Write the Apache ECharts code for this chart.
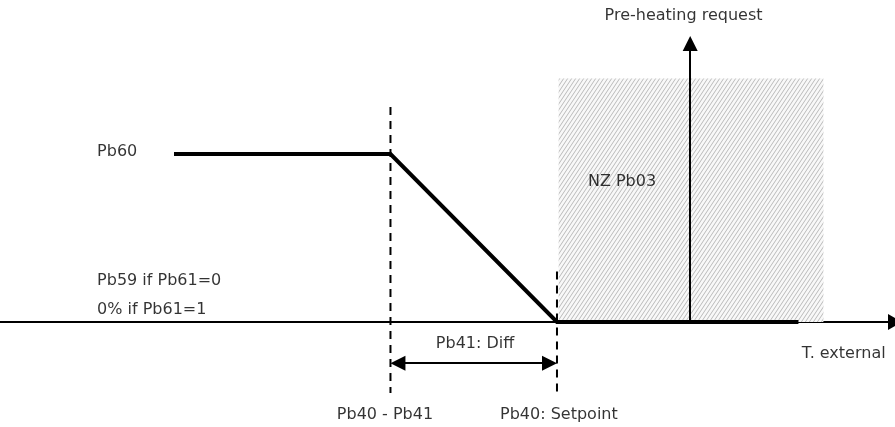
<!DOCTYPE html>
<html>
<head>
<meta charset="utf-8">
<script src="https://cdn.jsdelivr.net/npm/echarts@6/dist/echarts.min.js"></script>
<style>
html,body{margin:0;padding:0;background:#fff;}
#chart{width:895px;height:427px;}
</style>
</head>
<body>
<div id="chart"></div>
<script>
// ---- data (diagram units: x = external temperature, y = request %) ----
const curveX = [0, 13, 23, 37.5];
const curveY = [100, 100, 0, 0];

const zoneX = [23.1, 39];
const zoneY = [0, 145];

const requestArrowX = [31, 31];
const requestArrowY = [0, 165.8];

const diffArrowX = [13.45, 22.55];
const diffArrowY = [-24.5, -24.5];

const dashLowX = [13, 13];
const dashLowY = [128, -42.3];
const dashSetX = [23, 23];
const dashSetY = [30, -42.3];

const labelTexts = ['Pre-heating request', 'Pb60', 'NZ Pb03', 'Pb59 if Pb61=0', '0% if Pb61=1',
                    'Pb41: Diff', 'T. external', 'Pb40 - Pb41', 'Pb40: Setpoint'];
const labelX = [30.6, -4.62, 24.86, -4.62, -4.62, 18.08, 37.7, 12.67, 19.58];
const labelY = [182, 101.2, 83.3, 24.4, 7.1, -13.1, -19, -55.4, -55.4];

const xRange = [-10.45, 43.3];
const yRange = [-62.5, 191.67];
// ----------------------------------------------------------------------

const labelAlign = ['center', 'left', 'left', 'left', 'left', 'center', 'left', 'center', 'left'];

function pairs(xs, ys) { return xs.map((x, i) => [x, ys[i]]); }

// hatch pattern: light "/" diagonal strokes
const TW = 4, TH = 6;
const tile = document.createElement('canvas');
tile.width = TW; tile.height = TH;
const tc = tile.getContext('2d');
tc.fillStyle = '#f8f8f8';
tc.fillRect(0, 0, TW, TH);
tc.strokeStyle = 'rgba(120,120,120,0.6)';
tc.lineWidth = 0.8;
tc.beginPath();
for (let c = 0; c <= 8; c += 4) {
  tc.moveTo(c, 0);
  tc.lineTo(c - 4, 6);
}
tc.stroke();

const chart = echarts.init(document.getElementById('chart'), null, {renderer: 'canvas'});
const font = {fontFamily: 'DejaVu Sans', fontSize: 16, color: '#000'};

chart.setOption({
  animation: false,
  backgroundColor: '#fff',
  grid: {left: 0, right: 0, top: 0, bottom: 0, containLabel: false},
  xAxis: {
    type: 'value', min: xRange[0], max: xRange[1],
    axisLine: {show: true, onZero: true, symbol: ['none', 'triangle'], symbolSize: [16, 14],
               lineStyle: {color: '#000', width: 2}},
    axisTick: {show: false}, axisLabel: {show: false}, splitLine: {show: false}
  },
  yAxis: {
    type: 'value', min: yRange[0], max: yRange[1], show: false,
    axisLine: {show: false}, splitLine: {show: false}
  },
  series: [
    {
      type: 'line', silent: true, symbol: 'none', z: 1,
      data: [],
      markArea: {
        silent: true,
        itemStyle: {color: {image: tile, repeat: 'repeat'}, borderWidth: 0, opacity: 1},
        data: [[{coord: [zoneX[0], zoneY[0]]}, {coord: [zoneX[1], zoneY[1]]}]]
      }
    },
    {
      type: 'line', silent: true, symbol: 'none', z: 3,
      data: pairs(dashLowX, dashLowY),
      lineStyle: {color: '#000', width: 2, type: [8, 6]}
    },
    {
      type: 'line', silent: true, symbol: 'none', z: 3,
      data: pairs(dashSetX, dashSetY),
      lineStyle: {color: '#000', width: 2, type: [8, 6]}
    },
    {
      type: 'lines', coordinateSystem: 'cartesian2d', silent: true, z: 4,
      symbol: ['none', 'triangle'], symbolSize: 15,
      lineStyle: {color: '#000', width: 2, opacity: 1},
      data: [{coords: pairs(requestArrowX, requestArrowY)}]
    },
    {
      type: 'lines', coordinateSystem: 'cartesian2d', silent: true, z: 4,
      symbol: ['triangle', 'triangle'], symbolSize: 15,
      lineStyle: {color: '#000', width: 2, opacity: 1},
      data: [{coords: pairs(diffArrowX, diffArrowY)}]
    },
    {
      type: 'line', silent: true, symbol: 'none', z: 5,
      data: pairs(curveX, curveY),
      lineStyle: {color: '#000', width: 4, cap: 'butt', join: 'miter'}
    },
    {
      type: 'scatter', silent: true, z: 6,
      symbolSize: 1, itemStyle: {color: 'transparent'},
      data: labelTexts.map((t, i) => ({
        name: t, value: [labelX[i], labelY[i]],
        label: {show: true, position: 'inside', formatter: t, align: labelAlign[i],
                verticalAlign: 'middle', ...font}
      }))
    }
  ]
});
</script>
</body>
</html>
